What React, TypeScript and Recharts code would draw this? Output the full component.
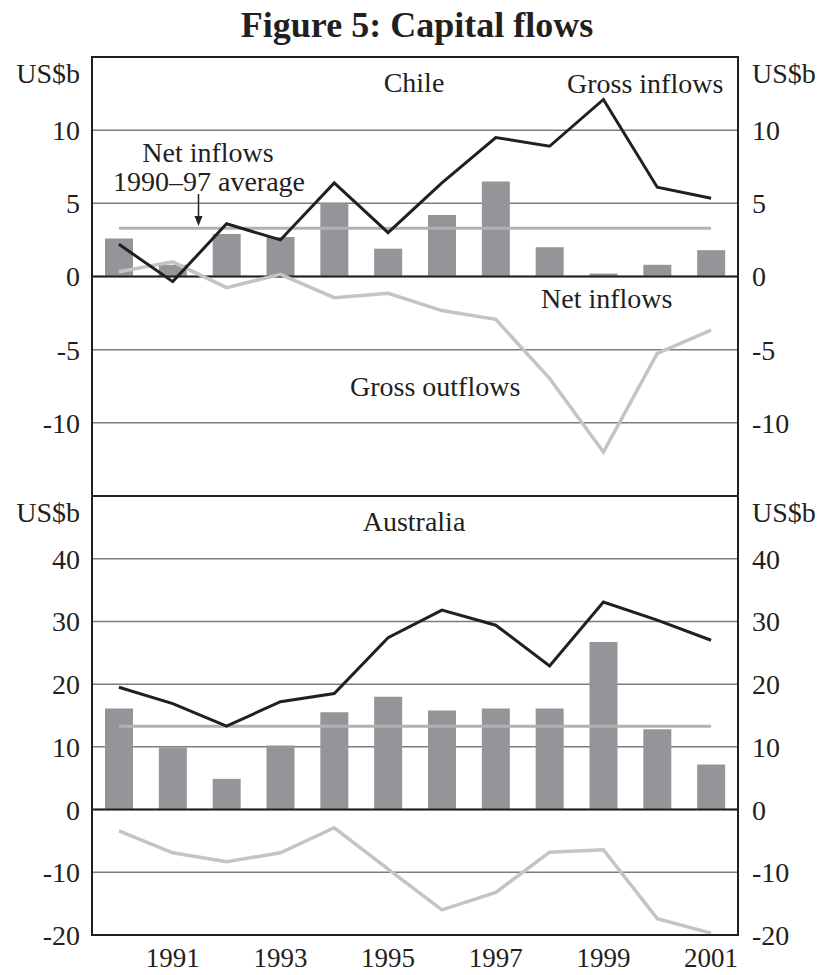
import React from 'react';
import { ComposedChart, Bar, Line, XAxis, YAxis, CartesianGrid, ReferenceLine } from 'recharts';

const years = ['1990', '1991', '1992', '1993', '1994', '1995', '1996', '1997', '1998', '1999', '2000', '2001'];
const labelYears = ['1991', '1993', '1995', '1997', '1999', '2001'];
const boundaryTicks = [1, 2, 3, 4, 5, 6, 7, 8, 9, 10, 11];

const chileNet = [2.6, 0.8, 2.9, 2.7, 5.0, 1.9, 4.2, 6.5, 2.0, 0.2, 0.8, 1.8];
const chileGrossIn = [2.2, -0.35, 3.6, 2.5, 6.4, 3.0, 6.4, 9.5, 8.9, 12.1, 6.1, 5.35];
const chileGrossOut = [0.33, 1.0, -0.76, 0.15, -1.45, -1.15, -2.33, -2.93, -6.96, -12.0, -5.25, -3.66];
const chileAvg = 3.3;
const chileTicks = [-15, -10, -5, 0, 5, 10, 15];

const ausNet = [16.1, 9.9, 4.9, 10.2, 15.5, 18.0, 15.8, 16.1, 16.1, 26.7, 12.8, 7.2];
const ausGrossIn = [19.5, 16.9, 13.3, 17.2, 18.5, 27.4, 31.8, 29.4, 22.9, 33.1, 30.2, 27.0];
const ausGrossOut = [-3.4, -6.9, -8.3, -6.9, -2.9, -9.5, -16.0, -13.2, -6.8, -6.4, -17.4, -19.7];
const ausAvg = 13.3;
const ausTicks = [-20, -10, 0, 10, 20, 30, 40, 50];

const chileData = years.map((year, i) => ({
  year,
  net: chileNet[i],
  grossIn: chileGrossIn[i],
  grossOut: chileGrossOut[i],
}));
const ausData = years.map((year, i) => ({
  year,
  net: ausNet[i],
  grossIn: ausGrossIn[i],
  grossOut: ausGrossOut[i],
}));

const FONT = '"Liberation Serif", "Times New Roman", serif';
const INK = '#231f20';
const FS = 28;

const makeTick = (anchor: 'start' | 'end', top: number, hidden: number[]) => (props: any) => {
  const { x, y, payload } = props;
  const v = payload.value;
  if (v === top) {
    return (
      <text x={x} y={y + 16} dy="0.355em" textAnchor={anchor} fontFamily={FONT} fontSize={FS} fill={INK}>
        US$b
      </text>
    );
  }
  if (hidden.includes(v)) return null;
  return (
    <text x={x} y={y} dy="0.355em" textAnchor={anchor} fontFamily={FONT} fontSize={FS} fill={INK}>
      {v}
    </text>
  );
};

const YearTick = (props: any) => {
  const { x, y, payload } = props;
  if (!labelYears.includes(payload.value)) return null;
  return (
    <text x={x} y={y} dy="0.71em" textAnchor="middle" fontFamily={FONT} fontSize={27} fill={INK}>
      {payload.value}
    </text>
  );
};

const BAR = '#939598';
const GRID = '#7d7d7d';
const OUT = '#c4c4c4';
const AVG = '#b2b2b2';

export default function App() {
  return (
    <div style={{ position: 'absolute', left: 0, top: 0, width: 818, height: 975, background: '#fff' }}>
      <div style={{ position: 'absolute', left: 0, top: 0 }}>
        <ComposedChart width={818} height={496} data={chileData} margin={{ top: 57, right: 0, bottom: 0, left: 0 }}>
          <XAxis dataKey="year" hide />
          <YAxis
            yAxisId="L"
            width={92}
            domain={[-15, 15]}
            allowDataOverflow
            ticks={chileTicks}
            interval={0}
            axisLine={false}
            tickLine={false}
            tickSize={0}
            tickMargin={12}
            tick={makeTick('end', 15, [-15])}
          />
          <YAxis
            yAxisId="R"
            orientation="right"
            width={80}
            domain={[-15, 15]}
            allowDataOverflow
            ticks={chileTicks}
            interval={0}
            axisLine={false}
            tickLine={false}
            tickSize={0}
            tickMargin={14}
            tick={makeTick('start', 15, [-15])}
          />
          <CartesianGrid yAxisId="L" vertical={false} stroke={GRID} strokeWidth={1.5} />
          <Bar yAxisId="L" dataKey="net" fill={BAR} barSize={28} isAnimationActive={false} />
          <ReferenceLine yAxisId="L" y={0} stroke={INK} strokeWidth={2} />
          <ReferenceLine
            yAxisId="L"
            segment={[{ x: years[0], y: chileAvg }, { x: years[years.length - 1], y: chileAvg }]}
            stroke={AVG}
            strokeWidth={3}
          />
          <Line yAxisId="L" dataKey="grossOut" stroke={OUT} strokeWidth={3.5} dot={false} isAnimationActive={false} />
          <Line yAxisId="L" dataKey="grossIn" stroke={INK} strokeWidth={3} dot={false} isAnimationActive={false} />
        </ComposedChart>
      </div>
      <div style={{ position: 'absolute', left: 0, top: 496 }}>
        <ComposedChart width={818} height={479} data={ausData} margin={{ top: 0, right: 0, bottom: 0, left: 0 }}>
          <XAxis
            dataKey="year"
            height={40}
            axisLine={false}
            tickLine={false}
            tickSize={0}
            tickMargin={13}
            interval={0}
            tick={YearTick}
          />
          <XAxis
            xAxisId="b"
            type="number"
            domain={[0, 12]}
            allowDataOverflow
            ticks={boundaryTicks}
            interval={0}
            mirror
            axisLine={false}
            tick={false}
            tickSize={11}
            tickLine={{ stroke: INK, strokeWidth: 1.5 }}
          />
          <YAxis
            yAxisId="L"
            width={92}
            domain={[-20, 50]}
            allowDataOverflow
            ticks={ausTicks}
            interval={0}
            axisLine={false}
            tickLine={false}
            tickSize={0}
            tickMargin={12}
            tick={makeTick('end', 50, [])}
          />
          <YAxis
            yAxisId="R"
            orientation="right"
            width={80}
            domain={[-20, 50]}
            allowDataOverflow
            ticks={ausTicks}
            interval={0}
            axisLine={false}
            tickLine={false}
            tickSize={0}
            tickMargin={14}
            tick={makeTick('start', 50, [])}
          />
          <CartesianGrid yAxisId="L" vertical={false} stroke={GRID} strokeWidth={1.5} />
          <Bar yAxisId="L" dataKey="net" fill={BAR} barSize={28} isAnimationActive={false} />
          <ReferenceLine yAxisId="L" y={0} stroke={INK} strokeWidth={2} />
          <ReferenceLine
            yAxisId="L"
            segment={[{ x: years[0], y: ausAvg }, { x: years[years.length - 1], y: ausAvg }]}
            stroke={AVG}
            strokeWidth={3}
          />
          <Line yAxisId="L" dataKey="grossOut" stroke={OUT} strokeWidth={3.5} dot={false} isAnimationActive={false} />
          <Line yAxisId="L" dataKey="grossIn" stroke={INK} strokeWidth={3} dot={false} isAnimationActive={false} />
        </ComposedChart>
      </div>
      <div
        style={{
          position: 'absolute',
          left: 91,
          top: 56,
          width: 648,
          height: 880,
          border: `2px solid ${INK}`,
          boxSizing: 'border-box',
          pointerEvents: 'none',
        }}
      />
      <div style={{ position: 'absolute', left: 91, top: 495, width: 648, height: 2, background: INK }} />
      <svg
        width={818}
        height={975}
        style={{ position: 'absolute', left: 0, top: 0, pointerEvents: 'none' }}
        fontFamily={FONT}
        fill={INK}
      >
        <text x={417} y={37} textAnchor="middle" fontSize={36} fontWeight="bold">
          Figure 5: Capital flows
        </text>
        <text x={414} y={92} textAnchor="middle" fontSize={FS}>Chile</text>
        <text x={567} y={93} fontSize={FS}>Gross inflows</text>
        <text x={208} y={162} textAnchor="middle" fontSize={FS}>Net inflows</text>
        <text x={209} y={191} textAnchor="middle" fontSize={FS}>1990–97 average</text>
        <line x1={198.5} y1={194} x2={198.5} y2={218} stroke={INK} strokeWidth={1.5} />
        <polygon points="194.5,216 202.5,216 198.5,226" fill={INK} />
        <text x={541} y={308} fontSize={FS}>Net inflows</text>
        <text x={350} y={396} fontSize={FS}>Gross outflows</text>
        <text x={414} y={531} textAnchor="middle" fontSize={FS}>Australia</text>
      </svg>
    </div>
  );
}
